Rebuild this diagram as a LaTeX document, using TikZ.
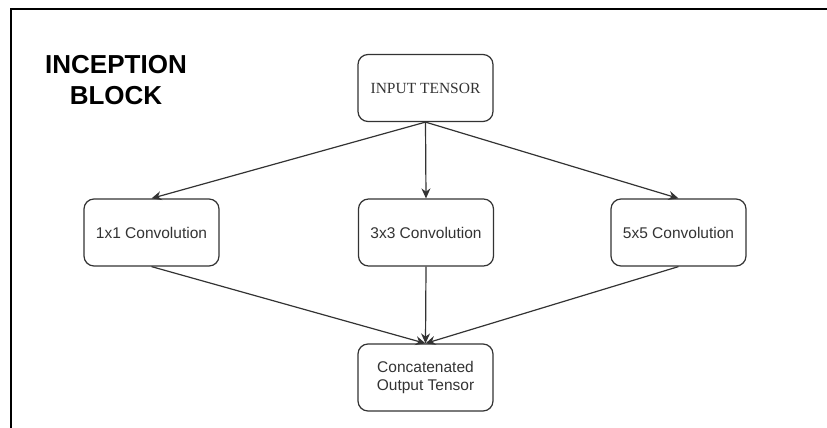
\documentclass[tikz,border=0pt]{standalone}
\usepackage{fontspec}
\setmainfont{Liberation Sans}
\newfontfamily\serifface{Liberation Serif}
\usetikzlibrary{arrows.meta}
\definecolor{edgegray}{HTML}{333333}
\definecolor{textgray}{HTML}{333333}
\tikzset{
  stagebox/.style={draw=edgegray, line width=1.2pt, rounded corners=10pt,
    minimum width=135pt, minimum height=67pt, align=center,
    text=textgray, font=\fontsize{15.5}{18}\selectfont, inner sep=0pt},
  flow/.style={draw=edgegray, line width=1.2pt,
    -{Stealth[length=10pt,width=9pt]}},
}
\begin{document}
\begin{tikzpicture}[x=1pt,y=-1pt]
  \useasboundingbox (0,0) rectangle (827,428);
  % frame edges
  \draw[line width=2pt] (11,428) -- (11,9) -- (827,9);
  % title
  \node[font=\fontsize{26}{31}\selectfont\bfseries, align=center] (title) at (116,80)
    {INCEPTION\\BLOCK};
  % nodes
  \node[stagebox, font=\serifface\fontsize{15.5}{18}\selectfont] (input) at (425.5,88) {INPUT TENSOR};
  \node[stagebox] (c1) at (151.5,232.5) {1x1 Convolution};
  \node[stagebox] (c3) at (426,232.5) {3x3 Convolution};
  \node[stagebox] (c5) at (678.5,232.5) {5x5 Convolution};
  \node[stagebox] (out) at (425.5,377.5) {Concatenated\\Output Tensor};
  % connectors
  \draw[flow] (input.south) -- (c1.north);
  \draw[flow] (input.south) -- (c3.north);
  \draw[flow] (input.south) -- (c5.north);
  \draw[flow] (c1.south) -- (out.north);
  \draw[flow] (c3.south) -- (out.north);
  \draw[flow] (c5.south) -- (out.north);
\end{tikzpicture}
\end{document}
